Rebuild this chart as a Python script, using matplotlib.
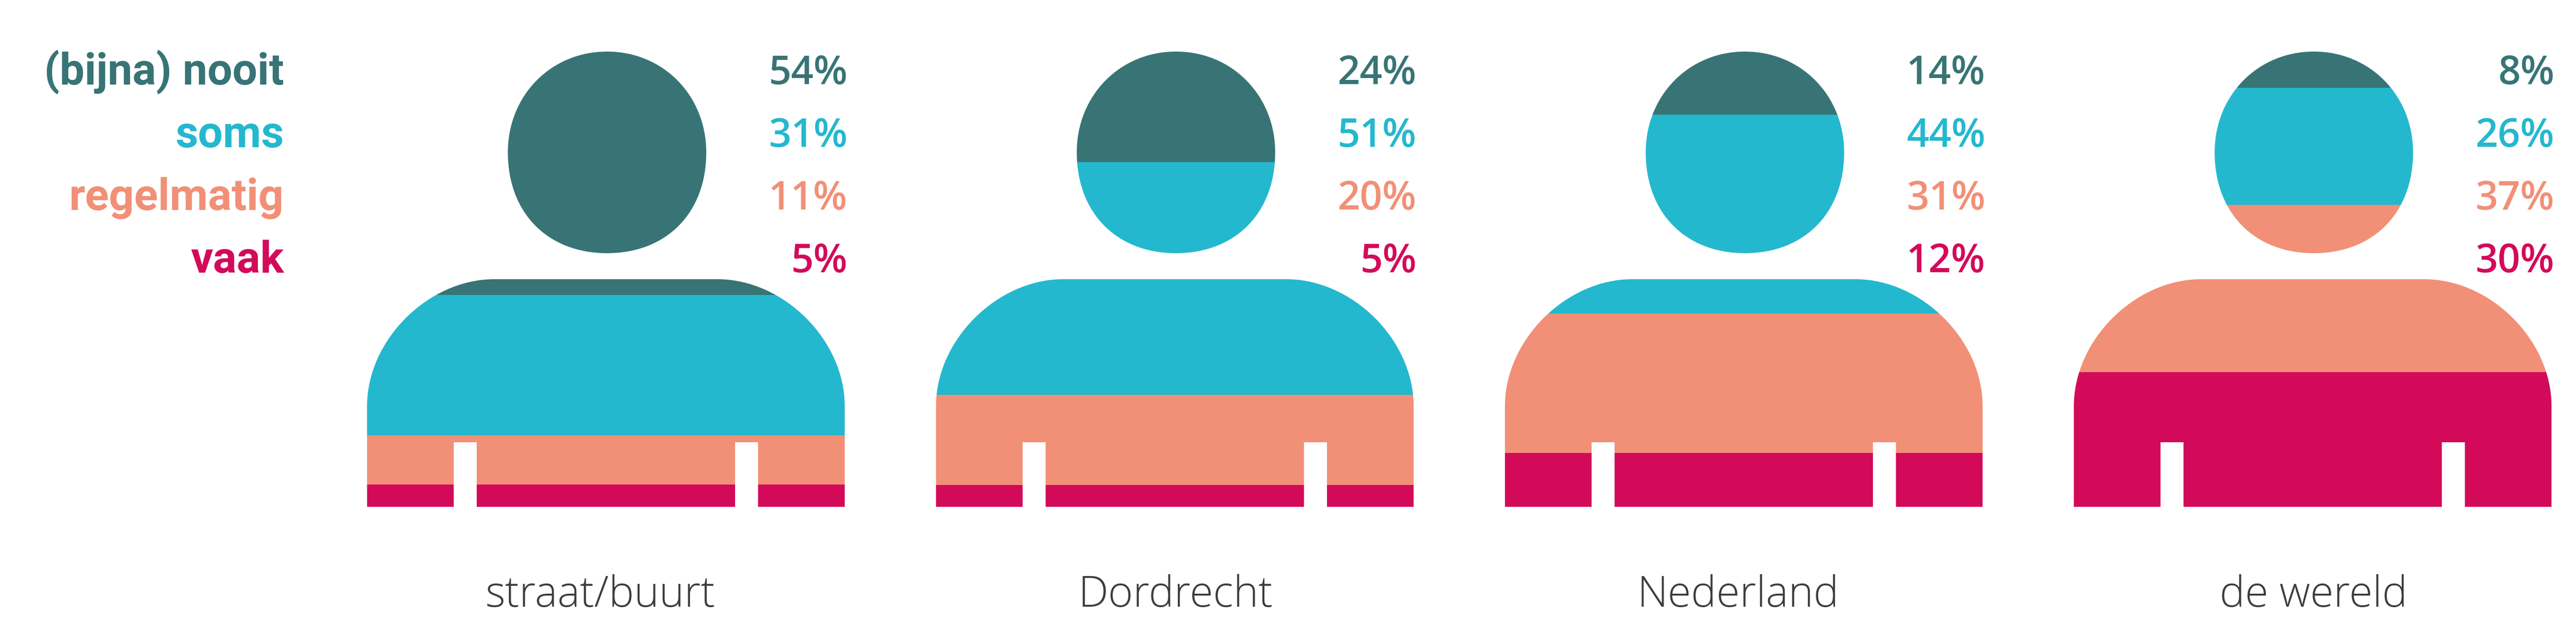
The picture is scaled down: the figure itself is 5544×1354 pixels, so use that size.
"""Vier silhouetten: hoe vaak men ... (straat/buurt, Dordrecht, Nederland, de wereld)."""
import matplotlib
matplotlib.use("Agg")
import matplotlib.pyplot as plt
from matplotlib.patches import PathPatch
from matplotlib.path import Path

# data
places = ["straat/buurt", "Dordrecht", "Nederland", "de wereld"]
answers = ["(bijna) nooit", "soms", "regelmatig", "vaak"]
answer_colors = ["#387476", "#24B8CE", "#F19076", "#D30A5A"]

nooit = [53.5, 24.3, 13.9, 8.0]
soms = [30.8, 51.1, 43.6, 25.7]
regelmatig = [10.8, 19.8, 30.7, 36.7]
vaak = [4.9, 4.8, 11.8, 29.6]

# afgeronde labels naast de figuur
nooit_lbl = ["54%", "24%", "14%", "8%"]
soms_lbl = ["31%", "51%", "44%", "26%"]
regelmatig_lbl = ["11%", "20%", "31%", "37%"]
vaak_lbl = ["5%", "5%", "12%", "30%"]

W, H = 5544, 1354
CENTERS = [1304, 2528.4, 3752.9, 4977.3]
PLACE_X = [1292, 2530, 3741, 4979]
TOP_PX, BOTTOM_PX = 111, 1091
PX_PER_PCT = (BOTTOM_PX - TOP_PX) / 100
ROW_PX = [181, 316, 451, 586]
FONT = ["Open Sans", "DejaVu Sans"]
LEGEND_FONT = ["Roboto", "DejaVu Sans"]


def pct(px):
    """Pixelrij naar positie op de 0-100 schaal van de figuur."""
    return (px - TOP_PX) / PX_PER_PCT


def person_path(cx):
    """Silhouet: hoofd plus romp met twee inkepingen, in data-coordinaten."""
    # hoofd: staat iets rechts van het midden, boven ronder dan onder
    hx = cx + 2.5
    rx, top, bot = 213.5, TOP_PX, 545
    mid = 328
    kt, kb = 0.565, 0.60
    head_v = [
        (hx, top),
        (hx + rx * kt, top), (hx + rx, mid - (mid - top) * kt), (hx + rx, mid),
        (hx + rx, mid + (bot - mid) * kb), (hx + rx * kb, bot), (hx, bot),
        (hx - rx * kb, bot), (hx - rx, mid + (bot - mid) * kb), (hx - rx, mid),
        (hx - rx, mid - (mid - top) * kt), (hx - rx * kt, top), (hx, top),
        (hx, top),
    ]
    head_c = [Path.MOVETO] + [Path.CURVE4] * 12 + [Path.CLOSEPOLY]

    # romp
    hw, flat, t, b = 514, 240, 601, BOTTOM_PX
    sh = 874
    k = 0.52
    n0, n1, ntop = 278, 327.5, 952
    body_v = [
        (cx - flat, t), (cx + flat, t),
        (cx + flat + (hw - flat) * k, t), (cx + hw, sh - (sh - t) * k), (cx + hw, sh),
        (cx + hw, b), (cx + n1, b), (cx + n1, ntop), (cx + n0, ntop), (cx + n0, b),
        (cx - n0, b), (cx - n0, ntop), (cx - n1, ntop), (cx - n1, b), (cx - hw, b),
        (cx - hw, sh),
        (cx - hw, sh - (sh - t) * k), (cx - flat - (hw - flat) * k, t), (cx - flat, t),
        (cx - flat, t),
    ]
    body_c = (
        [Path.MOVETO, Path.LINETO]
        + [Path.CURVE4] * 3
        + [Path.LINETO] * 11
        + [Path.CURVE4] * 3
        + [Path.CLOSEPOLY]
    )
    verts = head_v + body_v
    verts = [(x, pct(y)) for x, y in verts]
    return Path(verts, head_c + body_c)


fig = plt.figure(figsize=(W / 100, H / 100), dpi=100, facecolor="white")
ax = fig.add_axes([0, 0, 1, 1])
ax.set_xlim(0, W)
ax.set_ylim(pct(H), pct(0))
ax.axis("off")

series = [nooit, soms, regelmatig, vaak]
labels = [nooit_lbl, soms_lbl, regelmatig_lbl, vaak_lbl]

for p, cx in enumerate(CENTERS):
    clip = PathPatch(person_path(cx), transform=ax.transData, facecolor="none", edgecolor="none")
    ax.add_patch(clip)
    bottom = 0
    for s, values in enumerate(series):
        bars = ax.bar(cx, values[p], bottom=bottom, width=1060, color=answer_colors[s], linewidth=0)
        bars[0].set_clip_path(clip)
        bottom += values[p]
        ax.text(
            cx + 520, pct(ROW_PX[s]), labels[s][p], ha="right", va="baseline",
            fontsize=61, fontweight=600, color=answer_colors[s], family=FONT,
        )
    ax.text(
        PLACE_X[p], pct(1306), places[p], ha="center", va="baseline",
        fontsize=66, fontweight=300, color="#3C3C3C", family=FONT,
    )

for s, answer in enumerate(answers):
    ax.text(
        611, pct(ROW_PX[s] + 1), answer, ha="right", va="baseline",
        fontsize=68.5, fontweight="bold", color=answer_colors[s], family=LEGEND_FONT,
    )

fig.savefig("out.png", dpi=100, facecolor="white")
